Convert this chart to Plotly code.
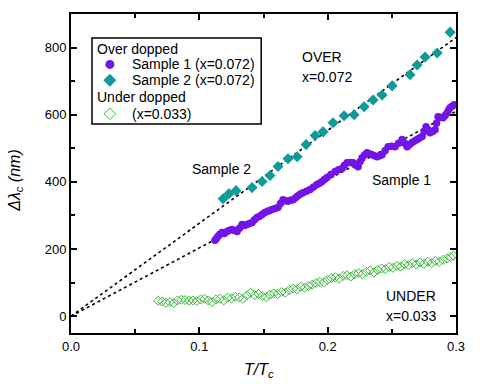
import plotly.graph_objects as go

# Sample 2 (over doped, x=0.072)
s2_x = [0.1185, 0.1231, 0.1286, 0.1411, 0.1489, 0.1551, 0.1613, 0.1691, 0.1762, 0.1832,
        0.1902, 0.1964, 0.2042, 0.2128, 0.2206, 0.2284, 0.2354, 0.2424, 0.2502, 0.2642,
        0.2697, 0.2759, 0.2853, 0.2954]
s2_y = [350, 365, 374, 383, 401, 419, 446, 469, 475, 511,
        538, 549, 576, 597, 600, 624, 644, 659, 686, 719,
        748, 772, 784, 846]

# Sample 1 (over doped, x=0.072)
s1_x = [0.1122, 0.1135, 0.1146, 0.1160, 0.1177, 0.1195, 0.1216, 0.1235, 0.1255, 0.1275,
        0.1294, 0.1313, 0.1333, 0.1352, 0.1372, 0.1391, 0.1411, 0.1430, 0.1450, 0.1470,
        0.1489, 0.1508, 0.1528, 0.1548, 0.1567, 0.1590, 0.1613, 0.1632, 0.1652, 0.1670,
        0.1691, 0.1710, 0.1730, 0.1750, 0.1769, 0.1788, 0.1808, 0.1835, 0.1863, 0.1890,
        0.1917, 0.1936, 0.1956, 0.1975, 0.1995, 0.2025, 0.2058, 0.2085, 0.2112, 0.2130,
        0.2151, 0.2175, 0.2198, 0.2218, 0.2237, 0.2252, 0.2268, 0.2288, 0.2307, 0.2326,
        0.2346, 0.2365, 0.2385, 0.2405, 0.2424, 0.2447, 0.2471, 0.2498, 0.2525, 0.2552,
        0.2580, 0.2600, 0.2619, 0.2638, 0.2658, 0.2677, 0.2697, 0.2716, 0.2736, 0.2752,
        0.2767, 0.2782, 0.2798, 0.2818, 0.2837, 0.2848, 0.2860, 0.2880, 0.2899, 0.2915,
        0.2931, 0.2943, 0.2954, 0.2970, 0.2985]
s1_y = [226, 232, 238, 244, 249, 246, 252, 256, 258, 255,
        252, 262, 273, 270, 273, 276, 279, 287, 294, 298,
        303, 308, 312, 315, 318, 321, 324, 336, 347, 344,
        342, 345, 347, 353, 359, 364, 368, 372, 377, 385,
        392, 396, 401, 407, 413, 422, 431, 436, 440, 449,
        457, 458, 457, 450, 445, 460, 472, 480, 487, 484,
        481, 478, 475, 478, 481, 493, 505, 506, 505, 515,
        526, 515, 505, 511, 517, 522, 526, 531, 535, 550,
        564, 555, 546, 550, 555, 575, 594, 592, 591, 598,
        606, 614, 621, 625, 630]

# Under doped (x=0.033)
ud_x = [0.068, 0.071, 0.074, 0.077, 0.080, 0.083, 0.086, 0.089, 0.092, 0.095,
        0.098, 0.101, 0.104, 0.107, 0.110, 0.113, 0.116, 0.119, 0.122, 0.125,
        0.128, 0.131, 0.134, 0.137, 0.140, 0.143, 0.146, 0.149, 0.152, 0.155,
        0.158, 0.161, 0.164, 0.167, 0.170, 0.173, 0.176, 0.179, 0.182, 0.185,
        0.188, 0.191, 0.194, 0.197, 0.200, 0.203, 0.206, 0.209, 0.212, 0.215,
        0.218, 0.221, 0.224, 0.227, 0.230, 0.233, 0.236, 0.239, 0.242, 0.245,
        0.248, 0.251, 0.254, 0.257, 0.260, 0.263, 0.266, 0.269, 0.272, 0.275,
        0.278, 0.281, 0.284, 0.287, 0.290, 0.293, 0.296, 0.298]
ud_y = [46, 44, 40, 42, 39, 47, 49, 48, 46, 47,
        45, 50, 52, 47, 42, 50, 52, 47, 55, 53,
        58, 56, 52, 62, 70, 63, 66, 60, 57, 64,
        68, 66, 72, 70, 78, 82, 80, 88, 85, 90,
        94, 99, 102, 101, 108, 114, 116, 112, 120, 122,
        118, 125, 128, 125, 132, 136, 130, 138, 142, 140,
        147, 144, 150, 148, 155, 152, 158, 154, 160, 156,
        162, 158, 165, 162, 168, 172, 176, 180]

# Linear fits through the origin
fit_x = [0.0, 0.3]
fit2_y = [0, 830]
fit1_y = [0, 610]

# Legend entries
legend_headers = ["Over dopped", "Under dopped"]
legend_labels = ["Sample 1 (x=0.072)", "Sample 2 (x=0.072)", "(x=0.033)"]

FONT = "Liberation Sans, Arial, sans-serif"
C_S1 = "#7414e6"
C_S2 = "#109a9a"
C_UD = "#3cb83c"

fig = go.Figure()
fig.add_trace(go.Scatter(x=fit_x, y=fit2_y, mode="lines", showlegend=False,
                         line=dict(color="black", width=1.6, dash="dot")))
fig.add_trace(go.Scatter(x=fit_x, y=fit1_y, mode="lines", showlegend=False,
                         line=dict(color="black", width=1.6, dash="dot")))
fig.add_trace(go.Scatter(x=ud_x, y=ud_y, mode="markers", showlegend=False,
                         marker=dict(symbol="diamond-open", size=7, color=C_UD,
                                     line=dict(width=1, color=C_UD))))
fig.add_trace(go.Scatter(x=s1_x, y=s1_y, mode="markers", showlegend=False,
                         marker=dict(symbol="circle", size=7.5, color=C_S1)))
fig.add_trace(go.Scatter(x=s2_x, y=s2_y, mode="markers", showlegend=False,
                         marker=dict(symbol="diamond", size=8.5, color=C_S2)))

# Legend drawn manually (box, swatches, labels) in a [0,1] overlay axis
lg_sym_x = 0.101
lg_rows_y = [0.842, 0.792, 0.687]
fig.add_trace(go.Scatter(x=[lg_sym_x], y=[lg_rows_y[0]], xaxis="x2", yaxis="y2",
                         mode="markers", showlegend=False, hoverinfo="skip",
                         marker=dict(symbol="circle", size=9, color=C_S1)))
fig.add_trace(go.Scatter(x=[lg_sym_x], y=[lg_rows_y[1]], xaxis="x2", yaxis="y2",
                         mode="markers", showlegend=False, hoverinfo="skip",
                         marker=dict(symbol="diamond", size=10, color=C_S2)))
fig.add_trace(go.Scatter(x=[lg_sym_x], y=[lg_rows_y[2]], xaxis="x2", yaxis="y2",
                         mode="markers", showlegend=False, hoverinfo="skip",
                         marker=dict(symbol="diamond-open", size=9, color=C_UD,
                                     line=dict(width=1, color=C_UD))))

fig.add_shape(type="rect", xref="paper", yref="paper", x0=0.0545, x1=0.494,
              y0=0.655, y1=0.925, line=dict(color="black", width=1.5),
              fillcolor="white", layer="below")

txt_font = dict(family=FONT, size=14, color="black")
for txt, y in zip(legend_headers, [0.890, 0.740]):
    fig.add_annotation(xref="paper", yref="paper", x=0.063, y=y, text=txt,
                       showarrow=False, xanchor="left", yanchor="middle", font=txt_font)
for txt, y in zip(legend_labels, lg_rows_y):
    fig.add_annotation(xref="paper", yref="paper", x=0.153, y=y, text=txt,
                       showarrow=False, xanchor="left", yanchor="middle", font=txt_font)

for txt, x, y in [("OVER", 0.1785, 772), ("x=0.072", 0.1785, 713),
                  ("Sample 2", 0.0928, 437), ("Sample 1", 0.233, 407),
                  ("UNDER", 0.244, 59), ("x=0.033", 0.244, 0)]:
    fig.add_annotation(x=x, y=y, text=txt, showarrow=False, xanchor="left",
                       yanchor="middle", font=txt_font)

# Axis titles
fig.add_annotation(xref="paper", yref="paper", x=-0.143, y=0.48,
                   text="<i>Δλ<sub>c</sub> (nm)</i>", textangle=-90, showarrow=False,
                   xanchor="center", yanchor="middle",
                   font=dict(family=FONT, size=16, color="black"))
fig.add_annotation(xref="paper", yref="paper", x=0.488, y=-0.116,
                   text="<i>T/T<sub>c</sub></i>", showarrow=False,
                   xanchor="center", yanchor="middle",
                   font=dict(family=FONT, size=16, color="black"))

axis_common = dict(showgrid=False, zeroline=False, showline=True, linecolor="black",
                   linewidth=2, mirror="ticks", ticks="inside", ticklen=6,
                   tickwidth=1.5, tickcolor="black", automargin=False,
                   tickfont=dict(family=FONT, size=13, color="black"))

fig.update_layout(
    width=491, height=384,
    margin=dict(l=71, r=35, t=14, b=51),
    paper_bgcolor="white", plot_bgcolor="white",
    font=dict(family=FONT, size=13, color="black"),
    showlegend=False,
    xaxis=dict(range=[0, 0.3], dtick=0.1, tickformat=".1f",
               minor=dict(dtick=0.05, ticks="inside", ticklen=4, tickcolor="black", tickwidth=1.5),
               **axis_common),
    yaxis=dict(range=[-50, 900], dtick=200,
               minor=dict(dtick=100, ticks="inside", ticklen=4, tickcolor="black", tickwidth=1.5),
               **axis_common),
    xaxis2=dict(overlaying="x", range=[0, 1], visible=False, fixedrange=True),
    yaxis2=dict(overlaying="y", range=[0, 1], visible=False, fixedrange=True),
)

fig.write_html("out.html", config={"displayModeBar": False},
               post_script="document.body.style.margin='0px';document.body.style.overflow='hidden';")
